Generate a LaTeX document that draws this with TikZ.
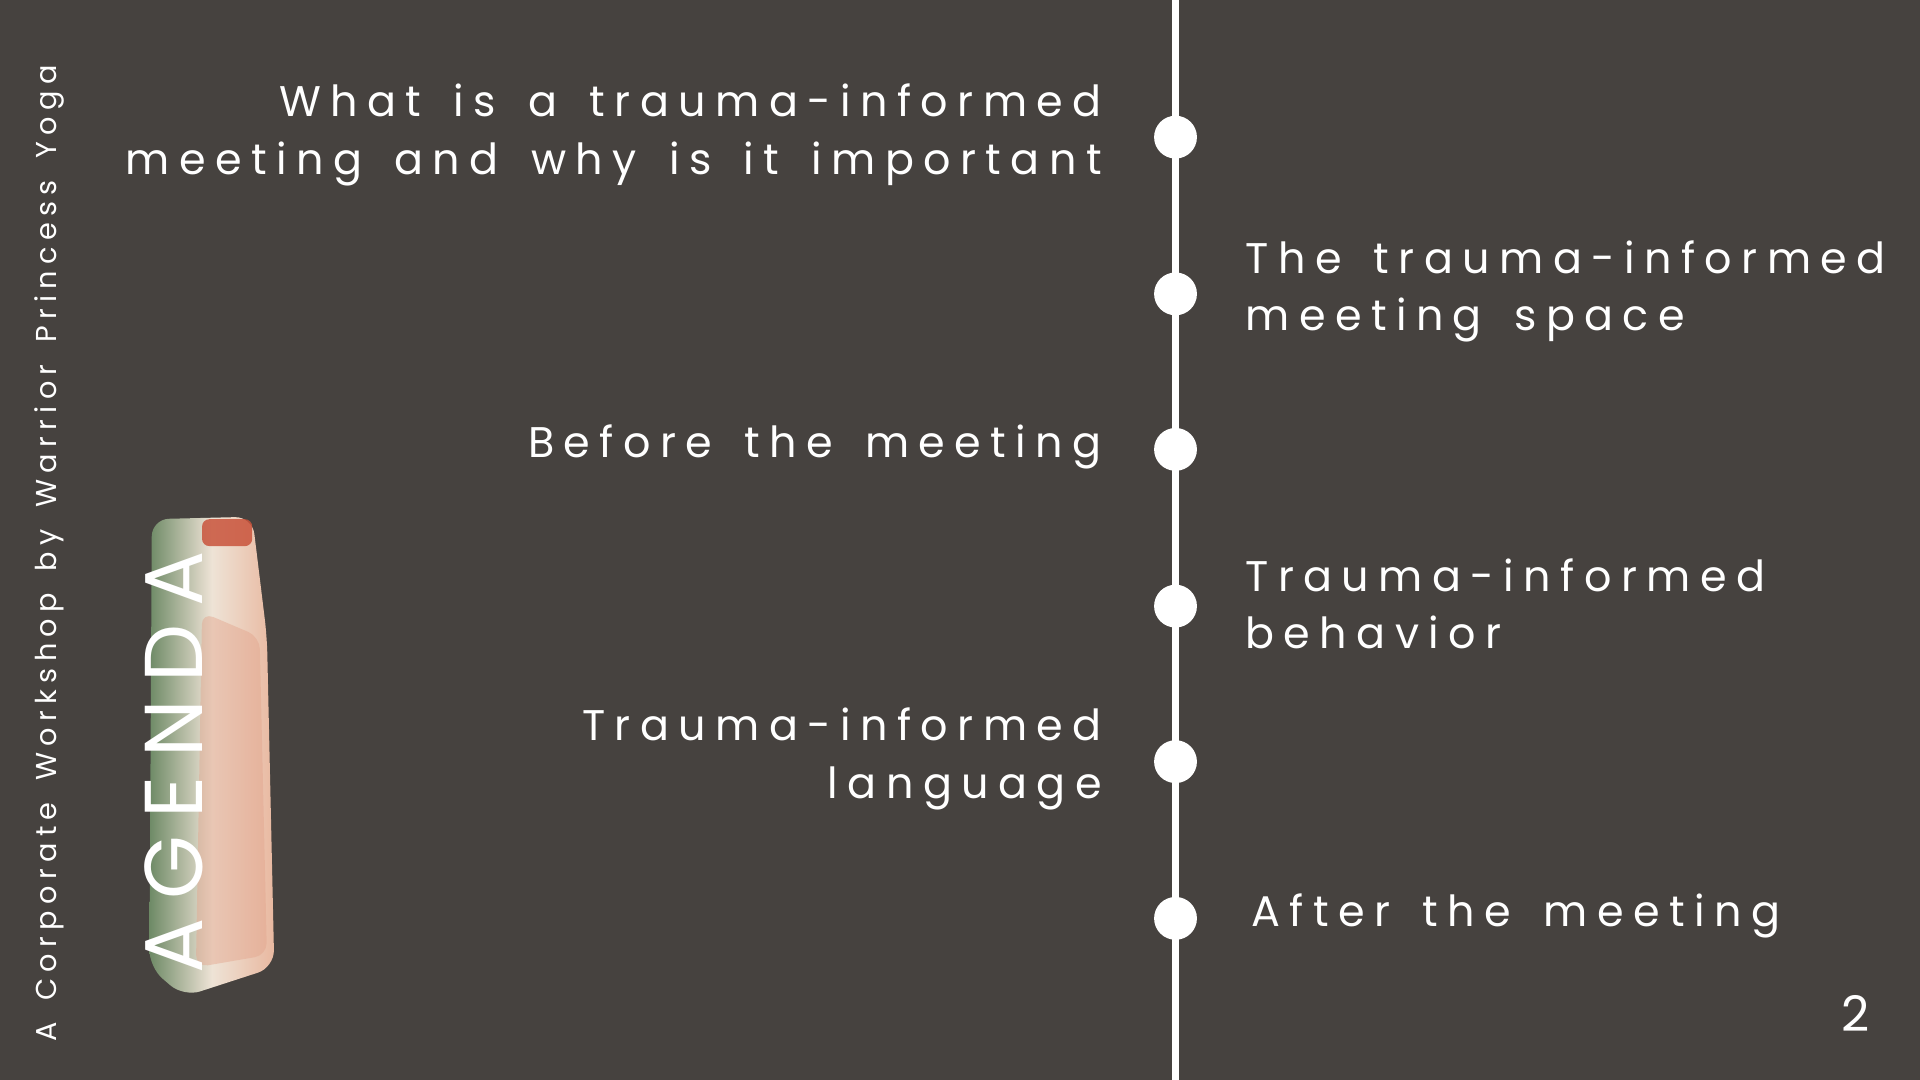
\documentclass[tikz,border=0pt]{standalone}
\usepackage{fontspec}
\setmainfont{Poppins}[LetterSpace=22,WordSpace=1.55]
\newfontfamily\plainf{Poppins}
\usetikzlibrary{shapes.misc}
\definecolor{bg}{HTML}{46423F}
\definecolor{wgreen}{HTML}{6E8A66}
\definecolor{wpeach}{HTML}{E9B8A0}
\definecolor{wcream}{HTML}{EEE3D6}
\definecolor{wred}{HTML}{C9543C}
\begin{document}
\begin{tikzpicture}[x=1pt,y=-1pt,
  item/.style={text=white,font=\fontsize{35}{47}\selectfont,inner sep=0pt},
  dot/.style={circle,fill=white,minimum size=35pt,inner sep=0pt}]
\fill[bg] (0,0) rectangle (1568,882);
\useasboundingbox (0,0) rectangle (1568,882);
% watercolor strip
\shade[left color=wgreen,right color=wpeach,middle color=wcream,rounded corners=14pt] (124,424) -- (206,422) -- (218,520) -- (224,790) -- (150,814) -- (122,790) -- cycle;
\fill[wpeach!80!wred,opacity=0.45,rounded corners=10pt] (165,500) -- (212,520) -- (218,780) -- (160,790) -- cycle;
\fill[wred,opacity=0.85,rounded corners=6pt] (165,424) rectangle (206,446);
% timeline
\draw[white,line width=5pt] (960,0) -- (960,882);
\foreach \n/\y in {d1/112,d2/240,d3/367,d4/495,d5/622,d6/750}{\node[dot] (\n) at (960,\y) {};}
\node[item,anchor=east,align=right] (t1) at (900,110) {What is a trauma-informed\\meeting and why is it important};
\node[item,anchor=west,align=left] (t2) at (1017,238) {The trauma-informed\\meeting space};
\node[item,anchor=east] (t3) at (900,365) {Before the meeting};
\node[item,anchor=west,align=left] (t4) at (1017,493) {Trauma-informed\\behavior};
\node[item,anchor=east,align=right] (t5) at (900,620) {Trauma-informed\\language};
\node[item,anchor=west] (t6) at (1022,748) {After the meeting};
\node[text=white,rotate=90,anchor=west,inner sep=0pt,font=\fontsize{67}{70}\selectfont] (ag) at (142,795) {AGENDA};
\node[text=white,rotate=90,anchor=west,inner sep=0pt,font=\fontsize{23.5}{26}\selectfont] (side) at (40,851) {A Corporate Workshop by Warrior Princess Yoga};
\node[text=white,inner sep=0pt,font=\plainf\fontsize{40}{40}\selectfont] (num) at (1515,828) {2};
\end{tikzpicture}
\end{document}
